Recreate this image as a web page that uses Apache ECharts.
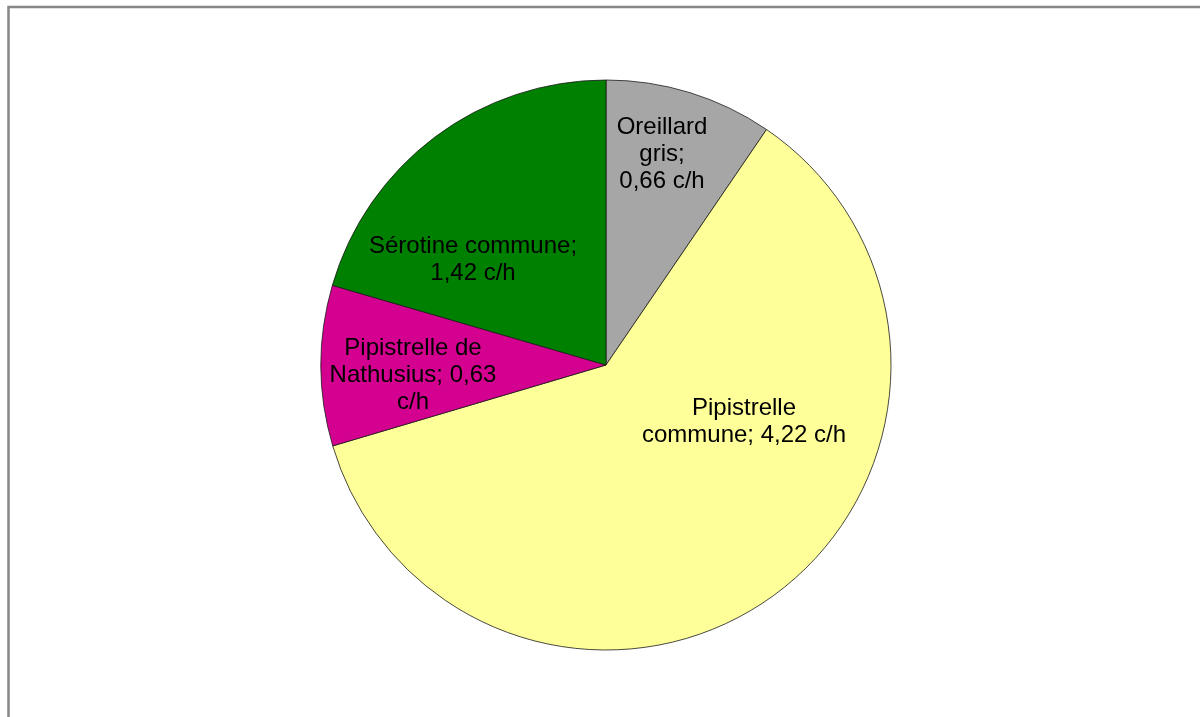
<!DOCTYPE html>
<html>
<head>
<meta charset="utf-8">
<script src="https://cdn.jsdelivr.net/npm/echarts@6/dist/echarts.min.js"></script>
<style>
  html, body { margin: 0; padding: 0; background: #fff; }
  #chart { width: 1200px; height: 717px; }
</style>
</head>
<body>
<div id="chart"></div>
<script>
// Bat activity per species (contacts per hour)
const species = ['Oreillard gris', 'Pipistrelle commune', 'Pipistrelle de Nathusius', 'Sérotine commune'];
const contactsPerHour = [0.66, 4.22, 0.63, 1.42];
const sliceColors = ['#A6A6A6', '#FFFF99', '#D4008F', '#008000'];
// Label wording with line breaks; {v} is replaced by the value
const labelTemplates = [
  'Oreillard\ngris;\n{v} c/h',
  'Pipistrelle\ncommune; {v} c/h',
  'Pipistrelle de\nNathusius; {v}\nc/h',
  'Sérotine commune;\n{v} c/h'
];

const CX = 606, CY = 365, R = 285;
// label centres relative to the pie centre
const labelSpots = [[56, -211], [138, 57], [-193, 10], [-133, -105]];

const chart = echarts.init(document.getElementById('chart'));
chart.setOption({
  backgroundColor: '#fff',
  animation: false,
  graphic: [{
    type: 'rect',
    shape: { x: 8.5, y: 7, width: 1400, height: 900 },
    style: { fill: 'none', stroke: '#878787', lineWidth: 2.5 }
  }],
  series: [{
    type: 'pie',
    center: [CX, CY],
    radius: R,
    startAngle: 90,
    clockwise: true,
    avoidLabelOverlap: false,
    itemStyle: { borderColor: '#1a1a1a', borderWidth: 0.8 },
    emphasis: { disabled: true },
    label: {
      show: true,
      position: 'inside',
      color: '#000',
      fontFamily: 'Liberation Sans, Arial, sans-serif',
      fontSize: 24,
      lineHeight: 27,
      align: 'center',
      formatter: function (p) {
        const v = String(p.value).replace('.', ',');
        return labelTemplates[p.dataIndex].replace('{v}', v);
      }
    },
    labelLine: { show: false },
    labelLayout: function (params) {
      const s = labelSpots[params.dataIndex];
      return { x: CX + s[0], y: CY + s[1], align: 'center', verticalAlign: 'middle' };
    },
    data: species.map((n, i) => ({
      name: n,
      value: contactsPerHour[i],
      itemStyle: { color: sliceColors[i] }
    }))
  }]
});
</script>
</body>
</html>
